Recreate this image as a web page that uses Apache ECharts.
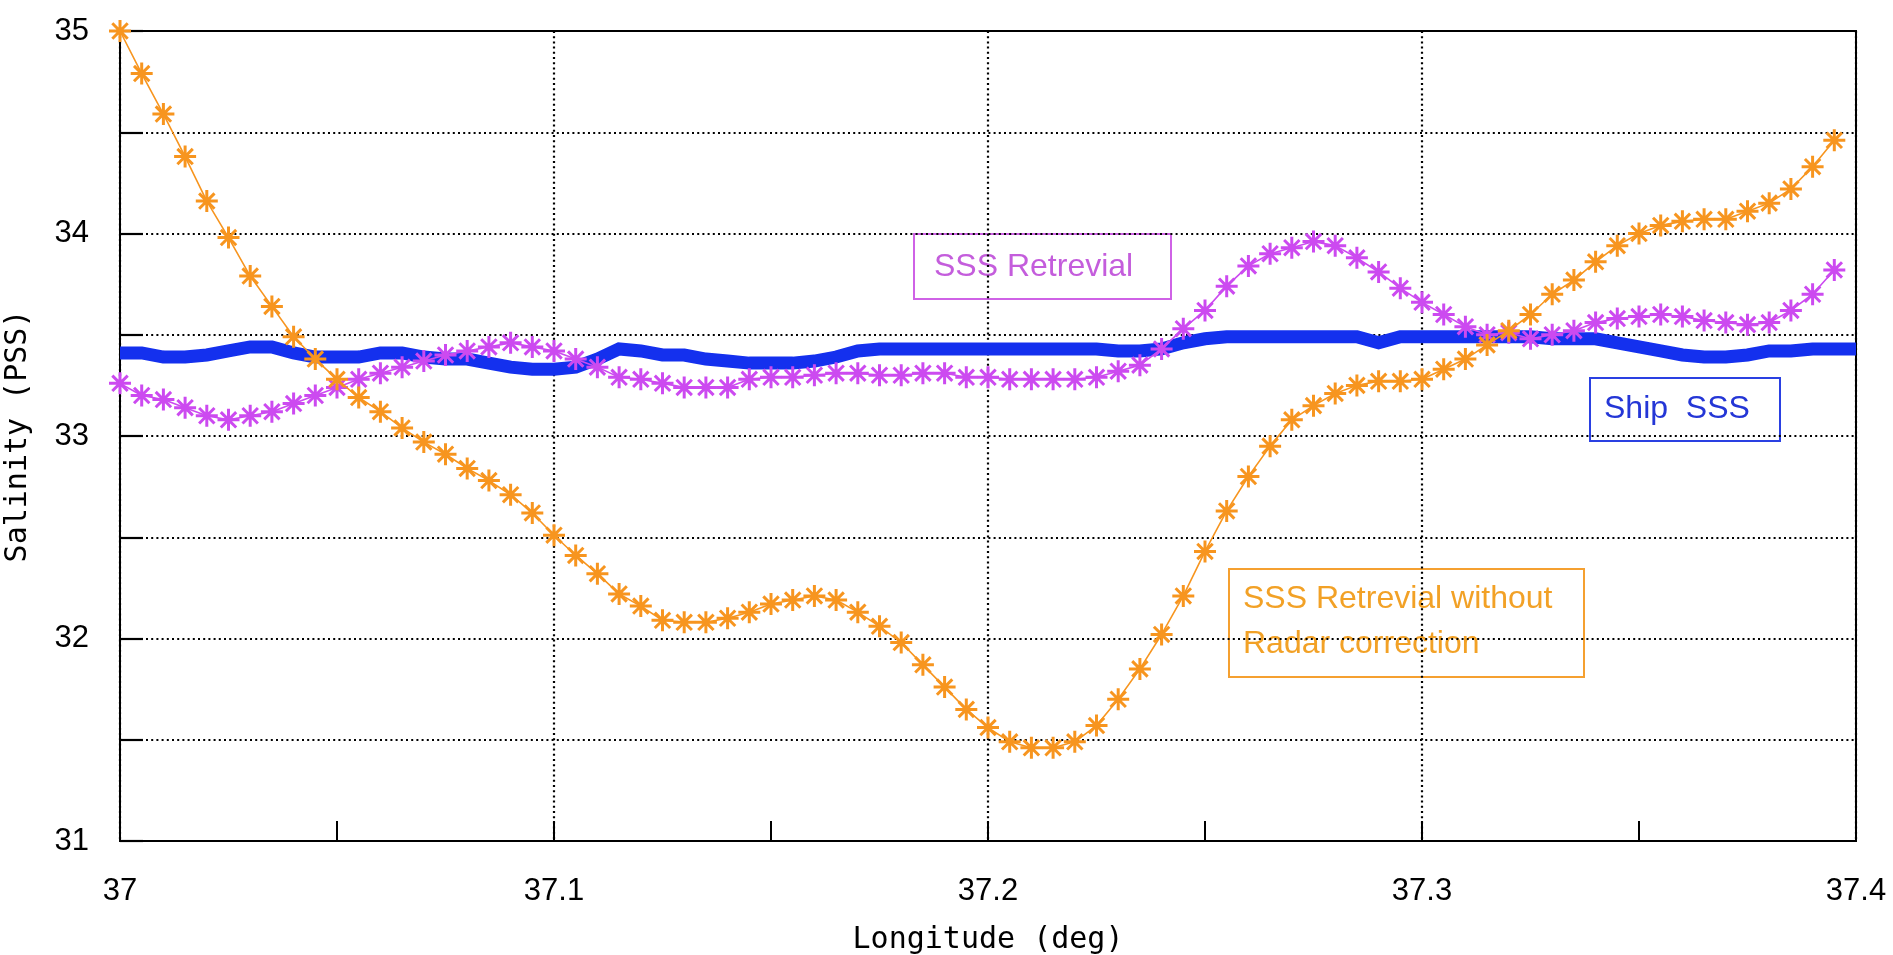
<!DOCTYPE html>
<html>
<head>
<meta charset="utf-8">
<title>Salinity along longitude</title>
<script src="https://cdn.jsdelivr.net/npm/echarts@6/dist/echarts.min.js"></script>
<style>
  html, body { margin: 0; padding: 0; background: #ffffff; }
  #chart { width: 1893px; height: 955px; }
</style>
</head>
<body>
<div id="chart"></div>
<script>
// Longitude sampling of the retrieval tracks (deg)
const lonStart = 37.0;
const lonStep = 0.005;

// Ship-measured sea surface salinity (PSS), 37.000 .. 37.400
const shipSSS = [
  33.41, 33.41, 33.39, 33.39, 33.40, 33.42, 33.44, 33.44, 33.41, 33.39,
  33.39, 33.39, 33.41, 33.41, 33.39, 33.38, 33.38, 33.36, 33.34, 33.33,
  33.33, 33.34, 33.38, 33.43, 33.42, 33.40, 33.40, 33.38, 33.37, 33.36,
  33.36, 33.36, 33.37, 33.39, 33.42, 33.43, 33.43, 33.43, 33.43, 33.43,
  33.43, 33.43, 33.43, 33.43, 33.43, 33.43, 33.42, 33.42, 33.43, 33.46,
  33.48, 33.49, 33.49, 33.49, 33.49, 33.49, 33.49, 33.49, 33.46, 33.49,
  33.49, 33.49, 33.49, 33.49, 33.49, 33.49, 33.48, 33.48, 33.48, 33.46,
  33.44, 33.42, 33.40, 33.39, 33.39, 33.40, 33.42, 33.42, 33.43, 33.43,
  33.43
];

// SSS retrieval (PSS), 37.000 .. 37.395
const sssRetrieval = [
  33.26, 33.20, 33.18, 33.14, 33.10, 33.08, 33.10, 33.12, 33.16, 33.20,
  33.24, 33.28, 33.31, 33.34, 33.37, 33.40, 33.42, 33.44, 33.46, 33.44,
  33.42, 33.38, 33.34, 33.29, 33.28, 33.26, 33.24, 33.24, 33.24, 33.28,
  33.29, 33.29, 33.30, 33.31, 33.31, 33.30, 33.30, 33.31, 33.31, 33.29,
  33.29, 33.28, 33.28, 33.28, 33.28, 33.29, 33.32, 33.35, 33.43, 33.53,
  33.62, 33.74, 33.84, 33.90, 33.93, 33.96, 33.94, 33.88, 33.81, 33.73,
  33.66, 33.60, 33.54, 33.50, 33.51, 33.48, 33.50, 33.52, 33.56, 33.58,
  33.59, 33.60, 33.59, 33.57, 33.56, 33.55, 33.56, 33.62, 33.70, 33.82
];

// SSS retrieval without radar correction (PSS), 37.000 .. 37.395
const sssNoRadar = [
  35.00, 34.79, 34.59, 34.38, 34.16, 33.98, 33.79, 33.64, 33.49, 33.38,
  33.28, 33.19, 33.12, 33.04, 32.97, 32.91, 32.84, 32.78, 32.71, 32.62,
  32.51, 32.41, 32.32, 32.22, 32.16, 32.09, 32.08, 32.08, 32.10, 32.13,
  32.17, 32.19, 32.21, 32.19, 32.13, 32.06, 31.98, 31.87, 31.76, 31.65,
  31.56, 31.49, 31.46, 31.46, 31.49, 31.57, 31.70, 31.85, 32.02, 32.21,
  32.43, 32.63, 32.80, 32.95, 33.08, 33.15, 33.21, 33.25, 33.27, 33.27,
  33.28, 33.33, 33.38, 33.45, 33.52, 33.60, 33.70, 33.77, 33.86, 33.94,
  34.00, 34.04, 34.06, 34.07, 34.07, 34.11, 34.15, 34.22, 34.33, 34.46
];

// Tick labels
const xTickLabels = ['37', '37.1', '37.2', '37.3', '37.4'];
const yTickLabels = ['31', '32', '33', '34', '35'];

// Annotation texts
const labelRetrieval = 'SSS Retrevial';
const labelShip = 'Ship  SSS';
const labelNoRadar = ['SSS Retrevial without', 'Radar correction'];

const lonAt = i => +(lonStart + i * lonStep).toFixed(3);
const pairs = vals => vals.map((v, i) => [lonAt(i), v]);

const tickText = (list, v) => {
  const hit = list.find(s => Math.abs(parseFloat(s) - v) < 1e-6);
  return hit || '';
};

// asterisk marker: vertical, horizontal and both diagonals
const star = 'path://M10,0L10,20M0,10L20,10M3,3L17,17M17,3L3,17';

const ORANGE = '#f7951f';
const MAGENTA = '#cc4af0';
const BLUE = '#1430ee';

const chart = echarts.init(document.getElementById('chart'), null, { renderer: 'canvas' });

const tickFont = { fontFamily: 'Liberation Sans', fontSize: 31, color: '#000000' };
const titleFont = { fontFamily: 'DejaVu Sans Mono', fontSize: 30, color: '#000000' };
const noteFont = 'Liberation Sans';
const gridDots = { color: '#000000', width: 2.2, type: [2, 3.2] };

chart.setOption({
  backgroundColor: '#ffffff',
  animation: false,
  grid: {
    left: 120, right: 37, top: 31, bottom: 114,
    outerBoundsMode: 'none', containLabel: false,
    show: true, borderColor: '#000000', borderWidth: 2, backgroundColor: 'transparent'
  },
  xAxis: [
    {
      type: 'value', min: 37, max: 37.4, interval: 0.05,
      name: 'Longitude (deg)', nameLocation: 'middle', nameGap: 84,
      nameTextStyle: titleFont,
      axisLine: { show: true, onZero: false, lineStyle: { color: '#000000', width: 2 } },
      axisTick: { show: true, inside: true, length: 20, lineStyle: { color: '#000000', width: 2 } },
      axisLabel: {
        show: true, margin: 35, ...tickFont,
        showMinLabel: true, showMaxLabel: true, hideOverlap: false,
        formatter: v => tickText(xTickLabels, v)
      },
      splitLine: { show: false }
    },
    {
      // carries the vertical dotted grid at every 0.1 deg
      type: 'value', min: 37, max: 37.4, interval: 0.1, position: 'top',
      axisLine: { show: false }, axisTick: { show: false }, axisLabel: { show: false },
      splitLine: { show: true, lineStyle: gridDots }
    }
  ],
  yAxis: {
    type: 'value', min: 31, max: 35, interval: 0.5,
    name: 'Salinity (PSS)', nameLocation: 'middle', nameGap: 87,
    nameTextStyle: titleFont,
    axisLine: { show: true, onZero: false, lineStyle: { color: '#000000', width: 2 } },
    axisTick: { show: true, inside: true, length: 23, lineStyle: { color: '#000000', width: 2.2 } },
    axisLabel: {
      show: true, margin: 31, ...tickFont,
      showMinLabel: true, showMaxLabel: true,
      formatter: v => tickText(yTickLabels, v)
    },
    splitLine: { show: true, lineStyle: gridDots }
  },
  series: [
    {
      name: 'Ship SSS', type: 'line', xAxisIndex: 0,
      data: pairs(shipSSS),
      showSymbol: false, smooth: false,
      lineStyle: { color: BLUE, width: 13, join: 'miter' },
      z: 2
    },
    {
      name: 'SSS Retrevial', type: 'line', xAxisIndex: 0,
      data: pairs(sssRetrieval),
      symbol: star, symbolSize: 22, showAllSymbol: true,
      itemStyle: { color: MAGENTA, borderColor: MAGENTA, borderWidth: 3 },
      lineStyle: { color: MAGENTA, width: 1.6 },
      z: 3
    },
    {
      name: 'SSS Retrevial without Radar correction', type: 'line', xAxisIndex: 0,
      data: pairs(sssNoRadar),
      symbol: star, symbolSize: 22, showAllSymbol: true,
      itemStyle: { color: ORANGE, borderColor: ORANGE, borderWidth: 3 },
      lineStyle: { color: ORANGE, width: 1.6 },
      z: 4
    }
  ],
  graphic: [
    {
      type: 'group', left: 913, top: 233, z: 10,
      children: [
        { type: 'rect', shape: { x: 0, y: 0, width: 257, height: 65 },
          style: { fill: '#ffffff', stroke: '#cf62e6', lineWidth: 2 } },
        { type: 'text', x: 20, y: 33,
          style: { text: labelRetrieval, fill: '#c45ddc', font: '32px ' + noteFont, verticalAlign: 'middle' } }
      ]
    },
    {
      type: 'group', left: 1589, top: 377, z: 10,
      children: [
        { type: 'rect', shape: { x: 0, y: 0, width: 190, height: 63 },
          style: { fill: '#ffffff', stroke: '#2a40e2', lineWidth: 2 } },
        { type: 'text', x: 14, y: 31,
          style: { text: labelShip, fill: '#2436d6', font: '32px ' + noteFont, verticalAlign: 'middle' } }
      ]
    },
    {
      type: 'group', left: 1228, top: 568, z: 10,
      children: [
        { type: 'rect', shape: { x: 0, y: 0, width: 355, height: 108 },
          style: { fill: 'transparent', stroke: '#f5a030', lineWidth: 2 } },
        { type: 'text', x: 14, y: 30,
          style: { text: labelNoRadar[0], fill: '#f2a126', font: '32px ' + noteFont, verticalAlign: 'middle' } },
        { type: 'text', x: 14, y: 75,
          style: { text: labelNoRadar[1], fill: '#f2a126', font: '32px ' + noteFont, verticalAlign: 'middle' } }
      ]
    }
  ]
});
</script>
</body>
</html>
